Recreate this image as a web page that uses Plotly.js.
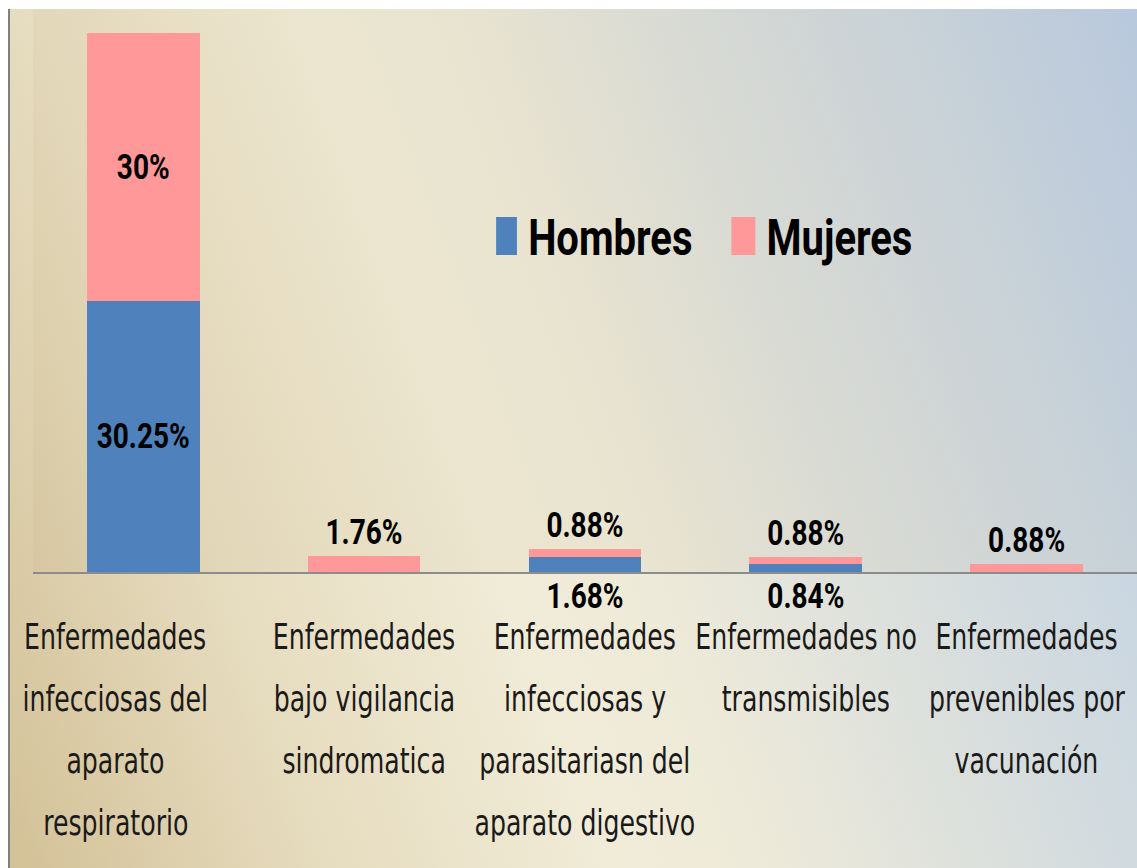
<!DOCTYPE html>
<html>
<head>
<meta charset="utf-8">
<script src="https://cdn.plot.ly/plotly-3.0.1.min.js"></script>
<style>
  html, body { margin:0; padding:0; background:#ffffff; overflow:hidden; width:1137px; height:868px; }
  #bg { position:absolute; left:8px; top:9px; width:1129px; height:859px;
        border-left:2px solid #7f7f7f; box-sizing:border-box;
        background: linear-gradient(70deg, #d3c197 0%, #e6dcbf 22%, #f1ecd8 42%, #eeead9 52%, #dfe2dc 65%, #cdd8e0 82%, #bacde6 100%); }
  /* the reference chart is horizontally squeezed; reproduce it by scaling the drawing */
  #chart { position:absolute; left:0; top:0; width:1421px; height:868px;
           transform: scaleX(0.80014); transform-origin: 0 0; }
</style>
</head>
<body>
<div id="bg"></div>
<div id="chart"></div>
<script>
const categories = [
  "Enfermedades<br>infecciosas del<br>aparato<br>respiratorio",
  "Enfermedades<br>bajo vigilancia<br>sindromatica",
  "Enfermedades<br>infecciosas y<br>parasitariasn del<br>aparato digestivo",
  "Enfermedades no<br>transmisibles",
  "Enfermedades<br>prevenibles por<br>vacunación"
];
const hombres = [30.25, 0, 1.68, 0.84, 0];
const mujeres = [30, 1.76, 0.88, 0.88, 0.88];
const hombresLabels = ["30.25%", "", "1.68%", "0.84%", ""];
const mujeresLabels = ["30%", "1.76%", "0.88%", "0.88%", "0.88%"];

const CAT_FONT = "'DejaVu Sans Condensed', 'DejaVu Sans', sans-serif";
const BOLD_FONT = "Roboto, 'Liberation Sans', Arial, sans-serif";
// horizontal nudge of the category label blocks (style only)
const LABEL_XSHIFT = [-35, 0, 0, 0, 0];

const traces = [
  {
    type: 'bar', name: 'Hombres', x: categories, y: hombres,
    marker: { color: '#4f81bd' },
    text: hombresLabels.map((t, i) => i === 0 ? t : ''),
    textposition: hombres.map((v, i) => i === 0 ? 'inside' : 'none'),
    insidetextanchor: 'middle', textangle: 0,
    textfont: { family: BOLD_FONT, size: 35, color: '#000', weight: 'bold' },
    constraintext: 'none',
    hoverinfo: 'none'
  },
  {
    type: 'bar', name: 'Mujeres', x: categories, y: mujeres,
    marker: { color: '#ff9999' },
    text: mujeresLabels,
    textposition: mujeres.map((v, i) => i === 0 ? 'inside' : 'outside'),
    insidetextanchor: 'middle', textangle: 0,
    textfont: { family: BOLD_FONT, size: 35, color: '#000', weight: 'bold' },
    constraintext: 'none',
    cliponaxis: false,
    hoverinfo: 'none'
  }
];

const annotations = [];
categories.forEach((c, ci) => {
  c.split('<br>').forEach((line, li) => {
    annotations.push({
      x: c, xref: 'x', y: 0, yref: 'paper',
      text: line, showarrow: false,
      yanchor: 'middle', xanchor: 'center',
      xshift: LABEL_XSHIFT[ci],
      yshift: -(65 + 62 * li),
      font: { family: CAT_FONT, size: 35, color: '#1a1a1a' }
    });
  });
});
hombresLabels.forEach((t, i) => {
  if (i > 0 && t) {
    annotations.push({
      x: categories[i], xref: 'x', y: 0, yref: 'paper',
      text: '<b>' + t + '</b>', showarrow: false,
      yanchor: 'top', xanchor: 'center', yshift: -2,
      font: { family: BOLD_FONT, size: 35, color: '#000' }
    });
  }
});

const layout = {
  width: 1421, height: 868,
  margin: { l: 41, r: 0, t: 9, b: 296 },
  paper_bgcolor: 'rgba(0,0,0,0)',
  plot_bgcolor: 'rgba(150,120,50,0.05)',
  barmode: 'stack',
  bargap: 0.49,
  showlegend: true,
  legend: {
    orientation: 'h', x: 0.4196, y: 0.597, xanchor: 'left', yanchor: 'middle',
    font: { family: BOLD_FONT, size: 50, color: '#000', weight: 'bold' },
    bgcolor: 'rgba(0,0,0,0)', traceorder: 'normal',
    entrywidth: 253, entrywidthmode: 'pixels'
  },
  xaxis: {
    range: [-0.5, 4.5],
    showticklabels: false, ticks: '', showgrid: false, zeroline: false,
    showline: true, linecolor: '#8c8c8c', linewidth: 2
  },
  yaxis: {
    range: [0, 62.93], showticklabels: false, ticks: '', showgrid: false,
    zeroline: false, showline: false
  },
  annotations: annotations
};

Plotly.newPlot('chart', traces, layout, { displayModeBar: false, staticPlot: true }).then(() => {
  // larger legend swatches, as in the reference
  document.querySelectorAll('#chart .legendpoints path').forEach(p => {
    p.setAttribute('d', 'M6,19H-24V-19H6Z');
  });
});
</script>
</body>
</html>
